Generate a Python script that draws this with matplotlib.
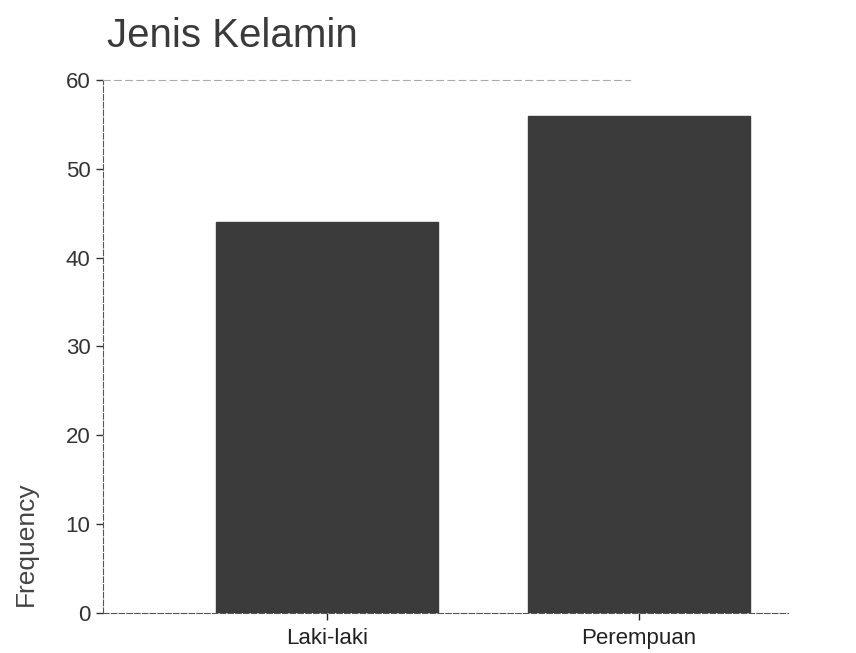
import matplotlib
matplotlib.use('Agg')
import matplotlib.pyplot as plt

plt.rcParams['font.family'] = ['Liberation Sans', 'DejaVu Sans']

categories = ['Laki-laki', 'Perempuan']
frequency = [44, 56]
yticks = [0, 10, 20, 30, 40, 50, 60]

fig = plt.figure(figsize=(8.56, 6.53), dpi=100)
ax = fig.add_axes([0.1203, 0.0613, 0.80, 0.8162])

x = range(len(categories))
ax.bar(x, frequency, width=0.712, color='#3b3b3b', edgecolor='#3b3b3b')

ax.set_xlim(-0.718, 1.477)
ax.set_ylim(0, 60)
ax.set_yticks(yticks)
ax.set_xticks(list(x))
ax.set_xticklabels(categories)
ax.tick_params(axis='y', labelsize=16, colors='#333333', length=5, width=1, pad=4)
ax.tick_params(axis='x', labelsize=16, colors='#222222', length=5, width=1, pad=6)

ax.spines['right'].set_visible(False)
ax.spines['top'].set_linestyle((0, (6, 4)))
ax.spines['top'].set_color('#aaaaaa')
ax.spines['top'].set_linewidth(0.8)
ax.spines['top'].set_bounds(-0.718, 0.97)
ax.spines['left'].set_linestyle((0, (5, 2)))
ax.spines['left'].set_color('#555555')
ax.spines['bottom'].set_linestyle((0, (5, 2)))
ax.spines['bottom'].set_color('#555555')

fig.text(0.125, 0.928, 'Jenis Kelamin', fontsize=29, color='#3a3a3a', va='baseline', ha='left')
fig.text(0.030, 0.168, 'Frequency', fontsize=19, color='#444444', rotation=90, va='center', ha='center')

fig.savefig('out.png', dpi=100)
